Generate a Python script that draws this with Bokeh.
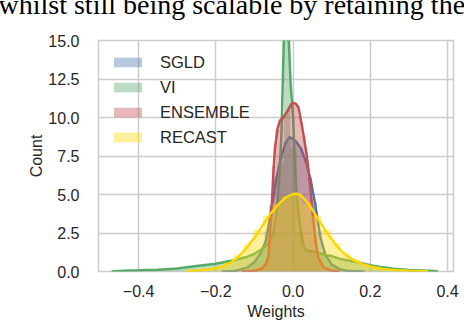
import numpy as np
from bokeh.plotting import figure
from bokeh.models import (ColumnDataSource, Legend, LegendItem, FixedTicker,
                          CustomJSTickFormatter, Range1d)
from bokeh.embed import file_html
from bokeh.resources import INLINE

# ---------------- data ----------------
series = ["SGLD", "VI", "ENSEMBLE", "RECAST"]
colors = ["#4C72B0", "#55A868", "#C44E52", "#FFD700"]

# histogram ranges (min, max) and bin heights (density)
sgld_range = (-0.185, 0.185)
sgld_hist = [0.0, 0.01, 0.03, 0.06, 0.12, 0.28, 0.5, 0.85, 1.45, 2.6, 4.3, 6.1, 7.5, 8.4, 8.7,
             8.5, 8.05, 7.3, 6.1, 4.5, 2.6, 1.3, 0.7, 0.4, 0.2, 0.1, 0.05, 0.03, 0.01, 0.0]
vi_range = (-0.483, 0.367)
vi_hist = [0.02, 0.03, 0.05, 0.06, 0.07, 0.08, 0.09, 0.11, 0.13, 0.15, 0.18, 0.22, 0.27, 0.33,
           0.4, 0.45, 0.5, 0.57, 0.65, 0.75, 0.85, 0.97, 1.15, 1.4, 1.75, 2.6, 7.0, 19.0, 8.0,
           2.6, 1.4, 1.3, 1.2, 1.05, 0.98, 0.85, 0.75, 0.66, 0.57, 0.47, 0.38, 0.3, 0.24, 0.19,
           0.15, 0.11, 0.08, 0.06, 0.04, 0.02]
ens_range = (-0.133, 0.12)
ens_hist = [0.0, 0.01, 0.02, 0.05, 0.1, 0.22, 0.55, 2.4, 6.8, 9.2, 9.9, 10.1, 10.6, 10.95,
            10.85, 10.1, 8.8, 7.1, 4.8, 2.3, 0.8, 0.3, 0.12, 0.06, 0.03, 0.01]
rec_range = (-0.28, 0.35)
rec_hist = [0.04, 0.09, 0.2, 0.35, 0.6, 1.05, 1.75, 2.7, 3.6, 4.35, 4.85, 5.0, 4.45, 3.65,
            2.7, 1.85, 1.2, 0.8, 0.5, 0.3, 0.18, 0.12, 0.08, 0.05, 0.03]

# kernel density curves (x, density)
sgld_kde_x = [-0.185, -0.15, -0.12, -0.10, -0.085, -0.07, -0.055, -0.042, -0.03, -0.02, -0.01,
              0.0, 0.01, 0.02, 0.035, 0.045, 0.057, 0.07, 0.083, 0.1, 0.12, 0.14, 0.185]
sgld_kde_y = [0.0, 0.04, 0.25, 0.6, 1.15, 2.0, 4.2, 6.2, 7.5, 8.3, 8.72,
              8.6, 8.35, 8.0, 7.0, 6.0, 4.4, 2.3, 1.1, 0.45, 0.15, 0.05, 0.0]
vi_kde_x = [-0.47, -0.44, -0.4, -0.35, -0.3, -0.25, -0.2, -0.15, -0.12, -0.1, -0.08, -0.065,
            -0.05, -0.042, -0.036, -0.03, -0.026, -0.022, -0.017, -0.012, -0.006, 0.0, 0.005,
            0.01, 0.014, 0.02, 0.028, 0.035, 0.05, 0.065, 0.087, 0.1, 0.122, 0.15, 0.17, 0.2,
            0.225, 0.26, 0.3, 0.34, 0.375]
vi_kde_y = [0.0, 0.05, 0.08, 0.12, 0.2, 0.35, 0.5, 0.75, 0.95, 1.15, 1.45, 1.8,
            2.5, 4.0, 6.0, 9.0, 13.0, 17.0, 19.5, 15.5, 12.0, 10.0, 6.7,
            4.8, 3.75, 2.5, 1.6, 1.36, 1.3, 1.22, 1.05, 1.0, 0.82, 0.68, 0.58, 0.4,
            0.3, 0.18, 0.1, 0.06, 0.02]
ens_kde_x = [-0.133, -0.1, -0.08, -0.07, -0.064, -0.06, -0.055, -0.051, -0.047, -0.04, -0.034,
             -0.025, -0.015, -0.005, 0.0, 0.007, 0.014, 0.022, 0.03, 0.035, 0.04, 0.048, 0.057,
             0.065, 0.078, 0.1, 0.12]
ens_kde_y = [0.0, 0.05, 0.2, 0.5, 0.95, 2.2, 4.4, 6.4, 8.0, 9.3, 9.8,
             10.0, 10.4, 10.85, 10.95, 10.9, 10.65, 9.6, 8.4, 7.6, 6.5, 4.5, 2.2,
             0.93, 0.28, 0.06, 0.0]
rec_kde_x = [-0.28, -0.24, -0.2, -0.18, -0.16, -0.14, -0.12, -0.10, -0.08, -0.06, -0.04, -0.02,
             0.0, 0.01, 0.02, 0.04, 0.06, 0.08, 0.10, 0.12, 0.14, 0.16, 0.18, 0.20, 0.23, 0.26,
             0.3, 0.35]
rec_kde_y = [0.02, 0.08, 0.2, 0.35, 0.6, 1.0, 1.55, 2.2, 2.95, 3.7, 4.3, 4.8,
             5.03, 5.05, 4.95, 4.4, 3.6, 2.8, 2.1, 1.45, 1.0, 0.7, 0.48, 0.32, 0.18, 0.1,
             0.05, 0.02]

x_ticks = [-0.4, -0.2, 0.0, 0.2, 0.4]
y_ticks = [0.0, 2.5, 5.0, 7.5, 10.0, 12.5, 15.0]
page_text = "whilst still being scalable by retaining the"

hists = [(sgld_range, sgld_hist), (vi_range, vi_hist), (ens_range, ens_hist), (rec_range, rec_hist)]
kdes = [(sgld_kde_x, sgld_kde_y), (vi_kde_x, vi_kde_y), (ens_kde_x, ens_kde_y), (rec_kde_x, rec_kde_y)]

# ---------------- figure ----------------
FONT = "Liberation Sans"
TXT = "#262626"
GRID = "#cccccc"

p = figure(frame_width=355, frame_height=231, output_backend="svg", toolbar_location=None,
           x_range=Range1d(-0.504, 0.4155), y_range=Range1d(0, 15),
           min_border_left=98, min_border_right=11, min_border_top=40, min_border_bottom=49,
           title=page_text + "\n \n ")
p.background_fill_color = "white"
p.border_fill_color = "white"
p.outline_line_color = GRID
p.outline_line_width = 1.5

p.title.text_font = "Liberation Serif"
p.title.text_font_size = "28px"
p.title.text_font_style = "normal"
p.title.text_color = "black"
p.title.align = "left"
p.title.vertical_align = "bottom"
p.title.offset = -100
p.title.standoff = -82

items = []
for name, col, (rng, h), (kx, ky) in zip(series, colors, hists, kdes):
    edges = np.linspace(rng[0], rng[1], len(h) + 1)
    src = ColumnDataSource(dict(left=edges[:-1], right=edges[1:], top=h, bottom=[0] * len(h)))
    r_hist = p.quad(left="left", right="right", top="top", bottom="bottom", source=src,
                    fill_color=col, fill_alpha=0.4, line_color=None)
    p.line(kx, ky, line_color=col, line_width=2.5)
    items.append(LegendItem(label=name, renderers=[r_hist]))

legend = Legend(items=items, location="top_left", margin=12, padding=0,
                glyph_width=35, glyph_height=12, label_height=20, spacing=5,
                label_standoff=15, border_line_alpha=0, background_fill_alpha=0,
                label_text_font=FONT, label_text_font_size="16.5px", label_text_color=TXT)
p.add_layout(legend)

for ax in (p.xaxis[0], p.yaxis[0]):
    ax.axis_line_color = None
    ax.major_tick_line_color = None
    ax.minor_tick_line_color = None
    ax.major_label_text_font = FONT
    ax.major_label_text_font_size = "16px"
    ax.major_label_text_color = TXT
    ax.axis_label_text_font = FONT
    ax.axis_label_text_font_size = "16px"
    ax.axis_label_text_font_style = "normal"
    ax.axis_label_text_color = TXT

fmt = CustomJSTickFormatter(code="return tick.toFixed(1).replace('-', '\\u2212');")
p.xaxis[0].ticker = FixedTicker(ticks=x_ticks)
p.yaxis[0].ticker = FixedTicker(ticks=y_ticks)
p.xaxis[0].formatter = fmt
p.yaxis[0].formatter = fmt
p.xaxis[0].axis_label = "Weights"
p.yaxis[0].axis_label = "Count"
p.xaxis[0].major_label_standoff = 7
p.yaxis[0].major_label_standoff = 13
p.xaxis[0].axis_label_standoff = 3
p.yaxis[0].axis_label_standoff = 0

p.xgrid.grid_line_color = GRID
p.ygrid.grid_line_color = GRID
p.xgrid.grid_line_width = 1.5
p.ygrid.grid_line_width = 1.5

open("out.html", "w").write(file_html(p, INLINE))
